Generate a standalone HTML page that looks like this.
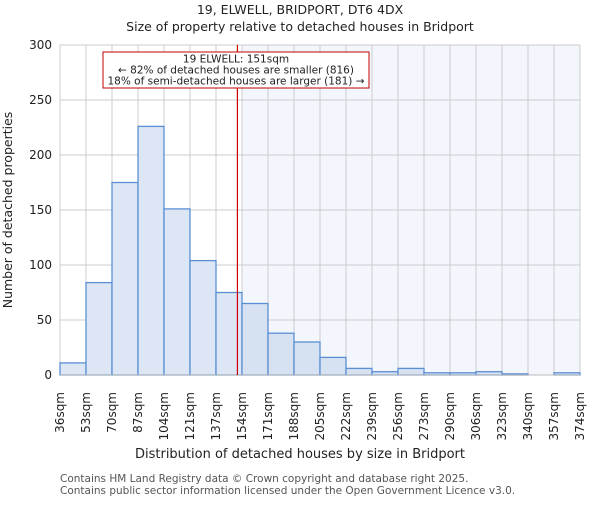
<!DOCTYPE html>
<html><head><meta charset="utf-8"><style>
body{margin:0;background:#fff;}
svg text{font-family:"DejaVu Sans","Liberation Sans",sans-serif;fill:#222;}
</style></head><body>
<svg id="chart" width="600" height="500" xmlns="http://www.w3.org/2000/svg">
<text x="300" y="14" text-anchor="middle" font-size="12.5">19, ELWELL, BRIDPORT, DT6 4DX</text>
<text x="300" y="31" text-anchor="middle" font-size="12.5">Size of property relative to detached houses in Bridport</text>
<g id="plot"></g>
<text x="300" y="458" text-anchor="middle" font-size="13">Distribution of detached houses by size in Bridport</text>
<text transform="translate(12,210) rotate(-90)" text-anchor="middle" font-size="12.5">Number of detached properties</text>
<text x="60" y="482" font-size="10.5" style="fill:#555">Contains HM Land Registry data © Crown copyright and database right 2025.</text>
<text x="60" y="494" font-size="10.5" style="fill:#555">Contains public sector information licensed under the Open Government Licence v3.0.</text>
</svg>
<script>
const binLabels=["36sqm","53sqm","70sqm","87sqm","104sqm","121sqm","137sqm","154sqm","171sqm","188sqm","205sqm","222sqm","239sqm","256sqm","273sqm","290sqm","306sqm","323sqm","340sqm","357sqm","374sqm"];
const binEdges=[36,53,70,87,104,121,137,154,171,188,205,222,239,256,273,290,306,323,340,357,374];
const counts=[11,84,175,226,151,104,75,65,38,30,16,6,3,6,2,2,3,1,0,2];
const yTicks=[0,50,100,150,200,250,300];
const subjectSize=151;
const NS="http://www.w3.org/2000/svg";
const L=60,R=580,T=45,B=375,yMax=300;
const n=counts.length, bw=(R-L)/n;
const xi=i=>L+i*bw;
const xv=v=>{for(let i=0;i<binEdges.length-1;i++){if(v<=binEdges[i+1])return xi(i)+(v-binEdges[i])/(binEdges[i+1]-binEdges[i])*bw;}return R;};
const y=v=>B-(v/yMax)*(B-T);
const g=document.getElementById('plot');
function mk(t,a,p){const e=document.createElementNS(NS,t);for(const k in a)e.setAttribute(k,a[k]);(p||g).appendChild(e);return e;}
let subjBin=0;for(let i=0;i<n;i++){if(subjectSize>=binEdges[i])subjBin=i;}
const shadeX=xi(subjBin+1);
const sh=mk('rect',{x:shadeX,y:T,width:R-shadeX,height:B-T,fill:'#f3f6fd'});


for(let i=0;i<=n;i++){const l=mk('line',{x1:xi(i),x2:xi(i),y1:T,y2:B,stroke:'#cccccc','stroke-width':1});

}
yTicks.forEach(t=>{const l=mk('line',{x1:L,x2:R,y1:y(t),y2:y(t),stroke:'#cccccc','stroke-width':1});


const tx=mk('text',{x:L-8,y:y(t)+4,'text-anchor':'end','font-size':12});tx.textContent=t;

});
counts.forEach((c,i)=>{const r=mk('rect',{x:xi(i),y:y(c),width:bw,height:B-y(c),fill:i>subjBin?'#d6e1f2':'#dce6f4',stroke:'#5b8fd4','stroke-width':1.3});

});
binLabels.forEach((lb,i)=>{const tx=mk('text',{transform:`translate(${xi(i)+4},392) rotate(-90)`,'text-anchor':'end','font-size':12});tx.textContent=lb;

});
const ax=mk('line',{x1:L,x2:R,y1:B,y2:B,stroke:'#bbbbbb','stroke-width':1});


const sx=xv(subjectSize);
const ml=mk('line',{x1:sx,x2:sx,y1:T,y2:B,stroke:'#d00000','stroke-width':1.2});


const box=mk('rect',{x:103,y:52,width:266,height:36,fill:'#fff',stroke:'#c00000','stroke-width':1});


["19 ELWELL: 151sqm","← 82% of detached houses are smaller (816)","18% of semi-detached houses are larger (181) →"].forEach((s,k)=>{const tx=mk('text',{x:236,y:62.5+k*11,'text-anchor':'middle','font-size':10.5});tx.textContent=s;

});
</script>
</body></html>
